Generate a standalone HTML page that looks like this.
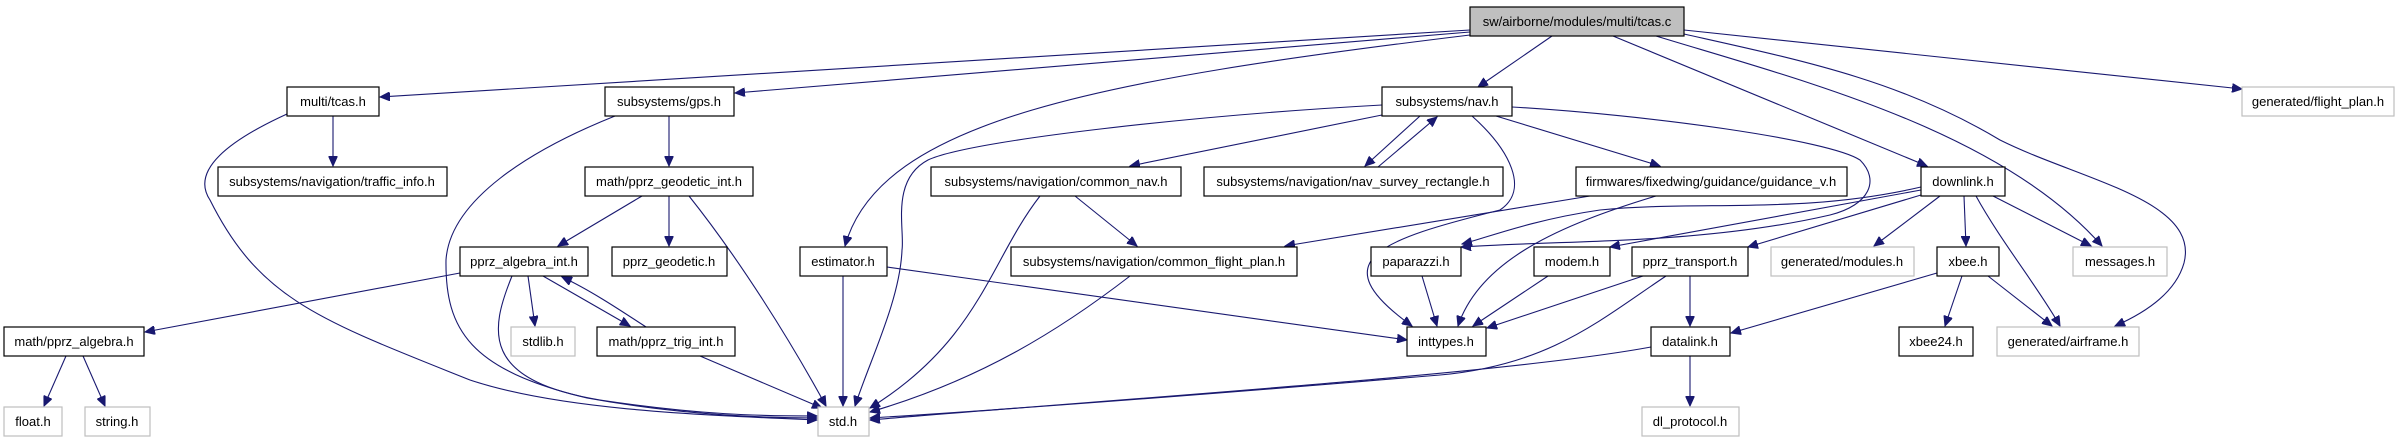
<!DOCTYPE html>
<html><head><meta charset="utf-8"><style>
html,body{margin:0;padding:0;background:#fff;}
svg{display:block;}
text{font-family:"Liberation Sans",sans-serif;font-size:13px;fill:#000;text-anchor:middle;}
.n{fill:#fff;stroke:#000;stroke-width:1.2;}
.g{fill:#fff;stroke:#bfbfbf;stroke-width:1.2;}
.e{fill:none;stroke:#191970;stroke-width:1.1;marker-end:url(#a);}
</style></head><body>
<svg width="2399" height="443" viewBox="0 0 2399 443" xmlns="http://www.w3.org/2000/svg">
<defs><marker id="a" markerUnits="userSpaceOnUse" markerWidth="11" markerHeight="9" refX="10" refY="4.5" orient="auto"><path d="M0,0 L10,4.5 L0,9 z" fill="#191970" stroke="#191970"/></marker></defs>
<g>
<path class="e" d="M1470,30 L380,97"/>
<path class="e" d="M1470,32 L735,93"/>
<path class="e" d="M1470,35 C1100,80 880,120 845,246"/>
<path class="e" d="M1552,36 L1478,87"/>
<path class="e" d="M1613,36 L1927,166"/>
<path class="e" d="M1656,36 C1800,80 2000,130 2102,246"/>
<path class="e" d="M1684,34 C1800,60 1900,80 2000,140 C2080,180 2200,200 2184,263 C2175,295 2140,315 2115,326"/>
<path class="e" d="M1684,30 L2242,89"/>
<path class="e" d="M333,116 L333,166"/>
<path class="e" d="M287,114 C230,140 190,170 210,200 C260,300 320,320 470,380 C560,410 700,415 817,420"/>
<path class="e" d="M669,116 L669,166"/>
<path class="e" d="M615,116 C530,150 450,200 446,260 C445,330 470,370 587,398 C680,415 760,418 817,418"/>
<path class="e" d="M642,196 L558,246"/>
<path class="e" d="M669,196 L669,246"/>
<path class="e" d="M689,196 C740,260 790,340 826,406"/>
<path class="e" d="M460,273 L145,332"/>
<path class="e" d="M528,276 L535,326"/>
<path class="e" d="M543,276 L630,326"/>
<path class="e" d="M646,327 C620,310 590,290 562,277"/>
<path class="e" d="M512,276 C490,330 480,380 600,400 C700,415 760,416 817,416"/>
<path class="e" d="M66,356 L44,406"/>
<path class="e" d="M83,356 L105,406"/>
<path class="e" d="M700,356 L822,408"/>
<path class="e" d="M1382,105 C1200,115 970,140 928,160 C890,180 905,230 902,250 C900,300 870,360 855,406"/>
<path class="e" d="M1382,115 L1130,166"/>
<path class="e" d="M1420,116 L1365,166"/>
<path class="e" d="M1378,167 L1437,117"/>
<path class="e" d="M1472,116 C1510,150 1530,190 1500,210 C1380,240 1320,260 1412,326"/>
<path class="e" d="M1496,116 L1660,166"/>
<path class="e" d="M1512,107 C1650,115 1830,140 1860,160 C1880,180 1870,205 1830,215 C1700,245 1560,240 1461,247"/>
<path class="e" d="M1040,196 C990,260 980,340 870,408"/>
<path class="e" d="M1075,196 L1137,246"/>
<path class="e" d="M1590,196 L1285,246"/>
<path class="e" d="M1656,196 C1560,225 1480,260 1458,326"/>
<path class="e" d="M1921,187 C1800,215 1700,200 1600,210 C1530,220 1480,240 1462,244"/>
<path class="e" d="M1921,190 L1610,247"/>
<path class="e" d="M1921,195 L1748,247"/>
<path class="e" d="M1940,196 L1874,246"/>
<path class="e" d="M1964,196 L1966,246"/>
<path class="e" d="M1976,196 C2000,240 2040,290 2060,326"/>
<path class="e" d="M1993,196 L2091,246"/>
<path class="e" d="M843,276 L843,406"/>
<path class="e" d="M887,267 L1407,340"/>
<path class="e" d="M1130,276 C1060,330 980,380 870,412"/>
<path class="e" d="M1422,276 L1437,326"/>
<path class="e" d="M1548,276 L1473,326"/>
<path class="e" d="M1643,276 L1487,328"/>
<path class="e" d="M1690,276 L1690,326"/>
<path class="e" d="M1666,276 C1600,320 1550,365 1440,375 C1200,395 1000,410 870,418"/>
<path class="e" d="M1937,273 L1731,333"/>
<path class="e" d="M1962,276 L1945,326"/>
<path class="e" d="M1988,276 L2052,326"/>
<path class="e" d="M1690,356 L1690,406"/>
<path class="e" d="M1651,347 C1500,375 1100,400 870,420"/>
</g>
<g>
<rect x="1470" y="7" width="214" height="29" fill="#bfbfbf" stroke="#000" stroke-width="1.2"/><text x="1577" y="26">sw/airborne/modules/multi/tcas.c</text>
<rect class="n" x="287" y="87" width="92" height="29"/><text x="333" y="106">multi/tcas.h</text>
<rect class="n" x="605" y="87" width="129" height="29"/><text x="669" y="106">subsystems/gps.h</text>
<rect class="n" x="1382" y="87" width="130" height="29"/><text x="1447" y="106">subsystems/nav.h</text>
<rect class="g" x="2242" y="87" width="152" height="29"/><text x="2318" y="106">generated/flight_plan.h</text>
<rect class="n" x="218" y="167" width="229" height="29"/><text x="332" y="186">subsystems/navigation/traffic_info.h</text>
<rect class="n" x="585" y="167" width="168" height="29"/><text x="669" y="186">math/pprz_geodetic_int.h</text>
<rect class="n" x="931" y="167" width="250" height="29"/><text x="1056" y="186">subsystems/navigation/common_nav.h</text>
<rect class="n" x="1204" y="167" width="299" height="29"/><text x="1353" y="186">subsystems/navigation/nav_survey_rectangle.h</text>
<rect class="n" x="1576" y="167" width="271" height="29"/><text x="1711" y="186">firmwares/fixedwing/guidance/guidance_v.h</text>
<rect class="n" x="1921" y="167" width="84" height="29"/><text x="1963" y="186">downlink.h</text>
<rect class="n" x="460" y="247" width="128" height="29"/><text x="524" y="266">pprz_algebra_int.h</text>
<rect class="n" x="612" y="247" width="115" height="29"/><text x="669" y="266">pprz_geodetic.h</text>
<rect class="n" x="800" y="247" width="87" height="29"/><text x="843" y="266">estimator.h</text>
<rect class="n" x="1011" y="247" width="286" height="29"/><text x="1154" y="266">subsystems/navigation/common_flight_plan.h</text>
<rect class="n" x="1371" y="247" width="90" height="29"/><text x="1416" y="266">paparazzi.h</text>
<rect class="n" x="1534" y="247" width="76" height="29"/><text x="1572" y="266">modem.h</text>
<rect class="n" x="1632" y="247" width="116" height="29"/><text x="1690" y="266">pprz_transport.h</text>
<rect class="g" x="1771" y="247" width="143" height="29"/><text x="1842" y="266">generated/modules.h</text>
<rect class="n" x="1937" y="247" width="62" height="29"/><text x="1968" y="266">xbee.h</text>
<rect class="g" x="2073" y="247" width="94" height="29"/><text x="2120" y="266">messages.h</text>
<rect class="n" x="4" y="327" width="140" height="29"/><text x="74" y="346">math/pprz_algebra.h</text>
<rect class="g" x="511" y="327" width="64" height="29"/><text x="543" y="346">stdlib.h</text>
<rect class="n" x="597" y="327" width="138" height="29"/><text x="666" y="346">math/pprz_trig_int.h</text>
<rect class="n" x="1407" y="327" width="79" height="29"/><text x="1446" y="346">inttypes.h</text>
<rect class="n" x="1651" y="327" width="79" height="29"/><text x="1690" y="346">datalink.h</text>
<rect class="n" x="1899" y="327" width="74" height="29"/><text x="1936" y="346">xbee24.h</text>
<rect class="g" x="1997" y="327" width="142" height="29"/><text x="2068" y="346">generated/airframe.h</text>
<rect class="g" x="4" y="407" width="58" height="29"/><text x="33" y="426">float.h</text>
<rect class="g" x="85" y="407" width="65" height="29"/><text x="117" y="426">string.h</text>
<rect class="g" x="818" y="407" width="51" height="29"/><text x="843" y="426">std.h</text>
<rect class="g" x="1642" y="407" width="97" height="29"/><text x="1690" y="426">dl_protocol.h</text>
</g>
</svg>
</body></html>
